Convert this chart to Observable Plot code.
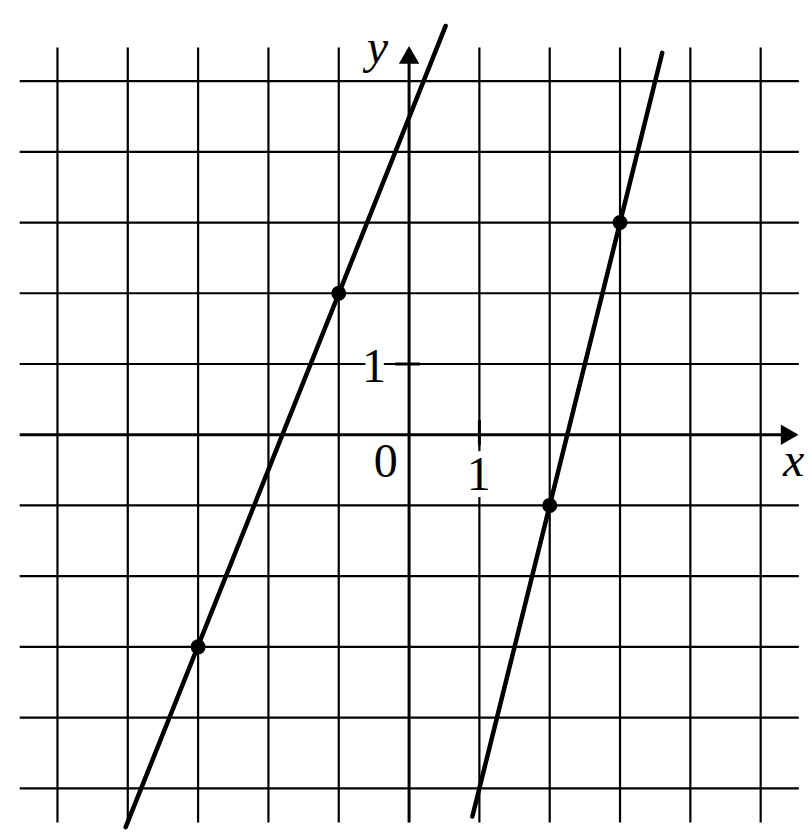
<!DOCTYPE html>
<html>
<head>
<meta charset="utf-8">
<script src="https://cdn.jsdelivr.net/npm/d3@7"></script>
<script src="https://cdn.jsdelivr.net/npm/@observablehq/plot@0.6"></script>
<style>
  html, body { margin: 0; padding: 0; background: #ffffff; }
  svg { display: block; background: #ffffff; }
</style>
</head>
<body>
<div id="chart"></div>
<script>
// ---- data ----
const gridValues = [-5, -4, -3, -2, -1, 0, 1, 2, 3, 4, 5];
const line1X = [-4.03, 0.52];
const line1Y = [-5.55, 5.78];
const line2X = [0.90, 3.60];
const line2Y = [-5.40, 5.40];
const pointsX = [-3, -1, 2, 3];
const pointsY = [-3, 2, -1, 3];
const axisNames = ["x", "y"];
const tickLabels = ["0", "1", "1"];

const line1 = line1X.map((x, i) => ({x, y: line1Y[i]}));
const line2 = line2X.map((x, i) => ({x, y: line2Y[i]}));
const points = pointsX.map((x, i) => ({x, y: pointsY[i]}));
const gridNoZero = gridValues.filter(v => v !== 0);

const serif = "Liberation Serif";

const chart = Plot.plot({
  width: 808,
  height: 838,
  margin: 0,
  style: {background: "#ffffff"},
  x: {domain: [-5.81, 5.68], axis: null},
  y: {domain: [-5.71, 6.14], axis: null},
  marks: [
    // grid
    Plot.ruleY(gridNoZero, {x1: -5.53, x2: 5.55, stroke: "#000", strokeWidth: 2.2}),
    Plot.ruleX(gridNoZero, {y1: -5.49, y2: 5.47, stroke: "#000", strokeWidth: 2.2}),
    // axes
    Plot.ruleY([0], {x1: -5.53, x2: 5.45, stroke: "#000", strokeWidth: 3}),
    Plot.ruleX([0], {y1: -5.49, y2: 5.35, stroke: "#000", strokeWidth: 3}),
    // ticks at 1
    Plot.ruleY([1], {x1: -0.19, x2: 0.16, stroke: "#000", strokeWidth: 3}),
    Plot.ruleX([1], {y1: -0.16, y2: 0.2, stroke: "#000", strokeWidth: 3}),
    // arrowheads
    Plot.dot([{x: 5.37, y: 0}], {x: "x", y: "y", symbol: "triangle", r: 7.6, fill: "#000", rotate: 90}),
    Plot.dot([{x: 0, y: 5.33}], {x: "x", y: "y", symbol: "triangle", r: 7.6, fill: "#000"}),
    // lines
    Plot.line(line1, {x: "x", y: "y", stroke: "#000", strokeWidth: 4.5}),
    Plot.line(line2, {x: "x", y: "y", stroke: "#000", strokeWidth: 4.5}),
    Plot.dot(points, {x: "x", y: "y", r: 7.5, fill: "#000"}),
    // axis names
    Plot.text([axisNames[1]], {x: -0.45, y: 5.48, text: d => d, fontFamily: serif, fontStyle: "italic", fontSize: 48, fill: "#000"}),
    Plot.text([axisNames[0]], {x: 5.47, y: -0.36, text: d => d, fontFamily: serif, fontStyle: "italic", fontSize: 48, fill: "#000"}),
    // tick labels
    Plot.text([tickLabels[0]], {x: -0.33, y: -0.38, text: d => d, fontFamily: serif, fontSize: 48, fill: "#000"}),
    Plot.text([tickLabels[1]], {x: -0.5, y: 0.96, text: d => d, fontFamily: serif, fontSize: 48, fill: "#000", stroke: "#fff", strokeWidth: 14}),
    Plot.text([tickLabels[2]], {x: 0.99, y: -0.56, text: d => d, fontFamily: serif, fontSize: 48, fill: "#000", stroke: "#fff", strokeWidth: 14})
  ]
});
document.getElementById("chart").appendChild(chart);
</script>
</body>
</html>
